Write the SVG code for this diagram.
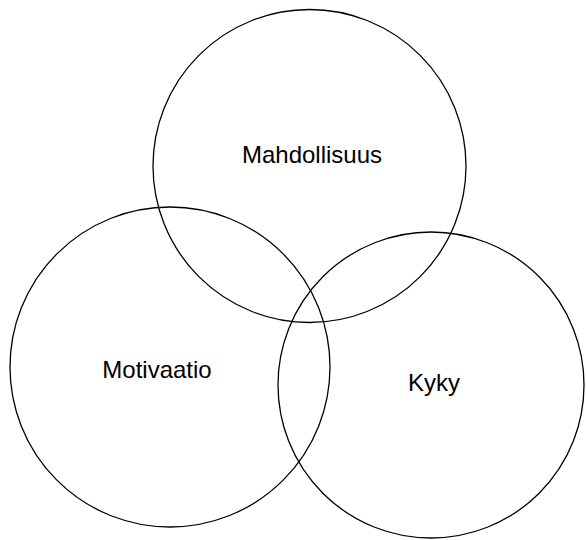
<svg xmlns="http://www.w3.org/2000/svg" width="586" height="540" viewBox="0 0 586 540">
<style>
.c{fill:none;stroke:#000;stroke-width:1.3}
.t{font-family:"Liberation Sans",Arial,sans-serif;font-size:24px;fill:#000;text-anchor:middle}
</style>
<rect width="586" height="540" fill="#fff"/>
<g id="mahdollisuus"><circle class="c" cx="309.5" cy="166" r="156.5"/><text class="t" x="312" y="163">Mahdollisuus</text></g>
<g id="motivaatio"><circle class="c" cx="170" cy="367" r="160"/><text class="t" x="157" y="378">Motivaatio</text></g>
<g id="kyky"><circle class="c" cx="431" cy="385" r="153"/><text class="t" x="434" y="391">Kyky</text></g>
<g id="connectors"/>
</svg>
